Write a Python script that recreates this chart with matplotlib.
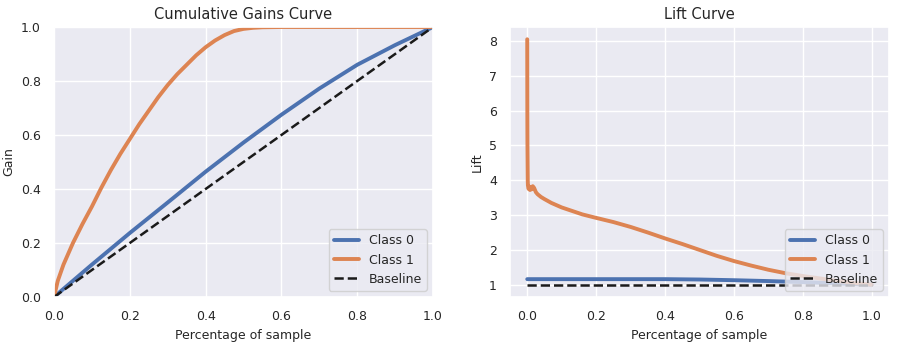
import numpy as np
import matplotlib
matplotlib.use("Agg")
import matplotlib.pyplot as plt
import seaborn as sns

# cumulative gains
gain_x = [0.0, 0.01, 0.025, 0.05, 0.075, 0.1, 0.125, 0.15, 0.175, 0.2, 0.225, 0.25,
          0.275, 0.3, 0.325, 0.35, 0.375, 0.4, 0.425, 0.45, 0.475, 0.5, 0.525, 0.55,
          0.6, 0.7, 0.8, 0.9, 1.0]
gain_class1 = [0.0, 0.06, 0.12, 0.2, 0.27, 0.335, 0.405, 0.47, 0.53, 0.585, 0.64, 0.69,
               0.74, 0.785, 0.825, 0.86, 0.895, 0.925, 0.95, 0.97, 0.985, 0.993, 0.997,
               0.999, 1.0, 1.0, 1.0, 1.0, 1.0]
gain_x0 = [0.0, 0.1, 0.2, 0.3, 0.4, 0.5, 0.6, 0.7, 0.8, 0.9, 1.0]
gain_class0 = [0.0, 0.12, 0.237, 0.35, 0.464, 0.572, 0.675, 0.772, 0.86, 0.933, 1.0]

# lift curves
lift_x1 = [0.0, 0.0003, 0.0006, 0.001, 0.0015, 0.002, 0.004, 0.006, 0.008, 0.01,
           0.013, 0.016, 0.02, 0.025, 0.03, 0.04, 0.05, 0.07, 0.1, 0.13, 0.16, 0.2,
           0.25, 0.3, 0.35, 0.4, 0.45, 0.5, 0.55, 0.6, 0.65, 0.7, 0.75, 0.8, 0.85,
           0.9, 0.95, 1.0]
lift_class1 = [8.05, 6.0, 5.1, 4.6, 4.0, 3.85, 3.75, 3.82, 3.72, 3.8, 3.74, 3.83,
               3.78, 3.66, 3.6, 3.52, 3.46, 3.35, 3.22, 3.12, 3.02, 2.92, 2.8, 2.66,
               2.5, 2.33, 2.17, 2.0, 1.83, 1.68, 1.55, 1.43, 1.33, 1.25, 1.18, 1.11,
               1.05, 1.0]
lift_x0 = [0.0, 0.1, 0.2, 0.3, 0.4, 0.5, 0.6, 0.7, 0.8, 0.9, 1.0]
lift_class0 = [1.16, 1.16, 1.16, 1.16, 1.16, 1.15, 1.13, 1.105, 1.075, 1.04, 1.0]

sns.set_theme(style="darkgrid")
blue, orange = sns.color_palette("deep")[0], sns.color_palette("deep")[1]

fig = plt.figure(figsize=(9.05, 3.49), dpi=100)
ax1 = fig.add_axes([54/905, 52/349, 379/905, 270/349])
ax2 = fig.add_axes([510/905, 52/349, 379/905, 270/349])

ax1.plot(gain_x0, gain_class0, color=blue, lw=2.8, label="Class 0")
ax1.plot(gain_x, gain_class1, color=orange, lw=2.8, label="Class 1")
ax1.plot([0, 1], [0, 1], "k--", lw=1.8, label="Baseline")
ax1.set_xlim(0, 1)
ax1.set_ylim(0, 1)
ax1.set_title("Cumulative Gains Curve", fontsize=10.5)
ax1.set_xlabel("Percentage of sample", fontsize=9)
ax1.set_ylabel("Gain", fontsize=9)
ax1.tick_params(labelsize=9)
ax1.legend(loc="lower right", fontsize=9)

ax2.plot(lift_x0, lift_class0, color=blue, lw=2.8, label="Class 0")
ax2.plot(lift_x1, lift_class1, color=orange, lw=2.8, label="Class 1")
ax2.plot([0, 1], [1, 1], "k--", lw=1.8, label="Baseline")
ax2.set_title("Lift Curve", fontsize=10.5)
ax2.set_xlabel("Percentage of sample", fontsize=9)
ax2.set_ylabel("Lift", fontsize=9)
ax2.tick_params(labelsize=9)
ax2.legend(loc="lower right", fontsize=9)

fig.savefig("out.png", dpi=100)
